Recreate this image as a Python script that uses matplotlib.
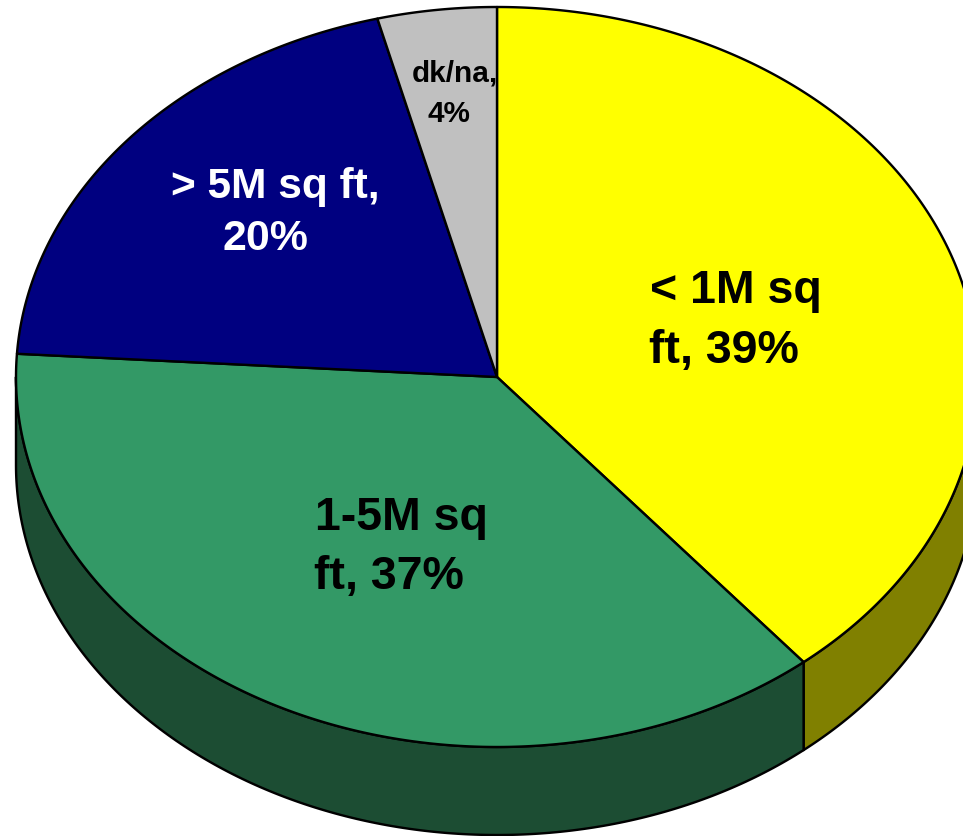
import numpy as np
import matplotlib
matplotlib.use("Agg")
import matplotlib.pyplot as plt
from matplotlib.patches import Polygon

plt.rcParams['font.family'] = ['Liberation Sans', 'DejaVu Sans']

W, H = 963, 837

# slices, clockwise from 12 o'clock
labels = ["< 1M sq ft", "1-5M sq ft", "> 5M sq ft", "dk/na"]
shares = [39, 37, 20, 4]
top_colors = ["#FFFF00", "#339966", "#000080", "#C0C0C0"]
side_colors = ["#808000", "#1C4D33", "#000040", "#606060"]

# pie geometry in pixels
cx, cy = 497, 378
rx, ry = 481, 370
depth = 88
edge = 2.4 * 72 / 100


def rim(a):
    # a is degrees clockwise from the top of the pie
    a = np.radians(a)
    return cx + rx * np.sin(a), cy - ry * np.cos(a)


fig = plt.figure(figsize=(W / 100, H / 100), dpi=100, facecolor="white")
ax = fig.add_axes([0, 0, 1, 1])
ax.set_xlim(0, W)
ax.set_ylim(H, 0)
ax.axis("off")

bounds = np.concatenate([[0], np.cumsum(shares)]) * 3.6

# side wall, only the front half of the rim shows
for i in range(len(shares)):
    a0, a1 = max(bounds[i], 90), min(bounds[i + 1], 270)
    if a0 >= a1:
        continue
    t = np.linspace(a0, a1, 200)
    x, y = rim(t)
    pts = np.vstack([np.column_stack([x, y]), np.column_stack([x[::-1], y[::-1] + depth])])
    ax.add_patch(Polygon(pts, closed=True, facecolor=side_colors[i], edgecolor="black",
                         linewidth=edge, joinstyle="round", zorder=2))

# top face
for i in range(len(shares)):
    t = np.linspace(bounds[i], bounds[i + 1], 300)
    x, y = rim(t)
    pts = np.vstack([[cx, cy], np.column_stack([x, y])])
    ax.add_patch(Polygon(pts, closed=True, facecolor=top_colors[i], edgecolor="black",
                         linewidth=edge, joinstyle="round", zorder=3))

# slice labels, one text per line
ax.text(650, 291, "< 1M sq", fontsize=33.5, fontweight="bold", color="black", ha="left", va="center", zorder=4)
ax.text(649, 351, f"ft, {shares[0]}%", fontsize=33.5, fontweight="bold", color="black", ha="left", va="center", zorder=4)
ax.text(315, 518, "1-5M sq", fontsize=33.5, fontweight="bold", color="black", ha="left", va="center", zorder=4)
ax.text(314, 577, f"ft, {shares[1]}%", fontsize=33.5, fontweight="bold", color="black", ha="left", va="center", zorder=4)
ax.text(171, 187, "> 5M sq ft,", fontsize=30.6, fontweight="bold", color="white", ha="left", va="center", zorder=4)
ax.text(222, 239, f"{shares[2]}%", fontsize=30.8, fontweight="bold", color="white", ha="left", va="center", zorder=4)
ax.text(412, 73, "dk/na,", fontsize=21.4, fontweight="bold", color="black", ha="left", va="center", zorder=4)
ax.text(427, 114, f"{shares[3]}%", fontsize=21.4, fontweight="bold", color="black", ha="left", va="center", zorder=4)

fig.savefig("out.png", dpi=100, facecolor="white")
plt.close(fig)
